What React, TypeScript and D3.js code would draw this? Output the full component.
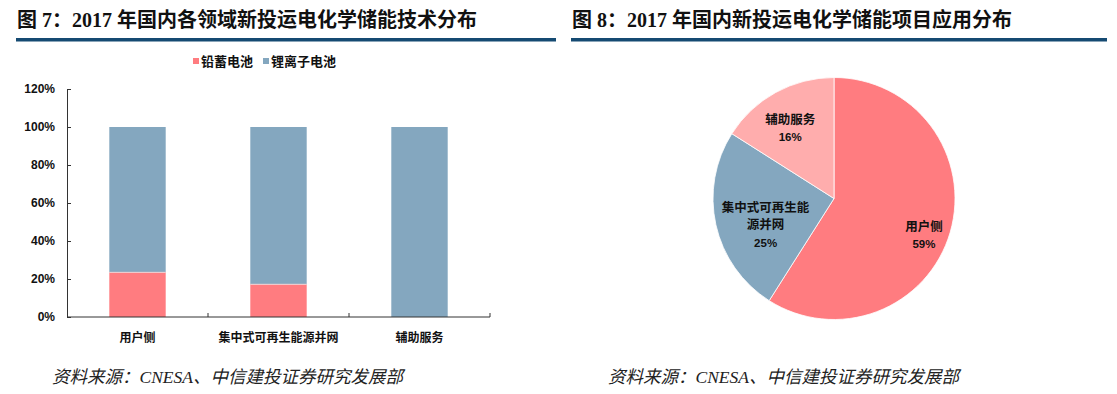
import React, { useEffect, useRef } from 'react';
import * as d3 from 'd3';

// bar chart (figure 7)
const barCategories = ['用户侧', '集中式可再生能源并网', '辅助服务'];
const leadAcid = [0.235, 0.172, 0];
const lithiumIon = [0.765, 0.828, 1];
const seriesNames = ['铅蓄电池', '锂离子电池'];
const yTicks = [0, 0.2, 0.4, 0.6, 0.8, 1.0, 1.2];

// pie chart (figure 8)
const pieNames = ['用户侧', '集中式可再生能源并网', '辅助服务'];
const pieLabelLines = [['用户侧'], ['集中式可再生能', '源并网'], ['辅助服务']];
const pieValues = [59, 25, 16];

const titles = [
  '图 7：2017 年国内各领域新投运电化学储能技术分布',
  '图 8：2017 年国内新投运电化学储能项目应用分布',
];
const source = '资料来源：CNESA、中信建投证券研究发展部';

const RED = '#ff7c80';
const BLUE = '#84a7bf';
const PINK = '#ffadad';
const LINE = '#154a72';
const FONT = '"Liberation Sans", Arial, "Noto Sans CJK SC", sans-serif';
const SERIF = '"Liberation Serif", "Times New Roman", "Noto Sans CJK SC", serif';

function App() {
  const svgRef = useRef<SVGSVGElement>(null);

  useEffect(() => {
    const svg = d3.select(svgRef.current);
    svg.selectAll('*').remove();

    // headers + source notes
    const heads = [
      { x: 17, x2: 557 },
      { x: 572, x2: 1108 },
    ];
    heads.forEach((h, i) => {
      svg.append('text')
        .attr('x', h.x).attr('y', 27)
        .attr('font-family', SERIF)
        .attr('font-weight', 'bold')
        .attr('font-size', 20)
        .attr('fill', '#111')
        .text(titles[i]);
      svg.append('rect')
        .attr('x', h.x - 1).attr('y', 38)
        .attr('width', h.x2 - h.x).attr('height', 3.5)
        .attr('fill', LINE);
      svg.append('text')
        .attr('x', i === 0 ? 52 : 608).attr('y', 383)
        .attr('font-family', SERIF)
        .attr('font-style', 'italic')
        .attr('font-size', 17.5)
        .attr('fill', '#222')
        .text(source);
    });

    // ---- stacked bar chart ----
    const x = d3.scaleBand().domain(barCategories).range([67, 490]).paddingInner(0.6).paddingOuter(0.3);
    const y = d3.scaleLinear().domain([0, 1.2]).range([317, 89]);
    const g = svg.append('g');

    const stackData = barCategories.map((c, i) => ({ cat: c, lead: leadAcid[i], li: lithiumIon[i] }));
    const stack = d3.stack<any>().keys(['lead', 'li'])(stackData);
    const colors = [RED, BLUE];
    stack.forEach((layer, k) => {
      g.selectAll(null)
        .data(layer)
        .enter()
        .append('rect')
        .attr('x', (d) => x(d.data.cat)!)
        .attr('width', x.bandwidth())
        .attr('y', (d) => y(d[1]))
        .attr('height', (d) => y(d[0]) - y(d[1]))
        .attr('fill', colors[k]);
    });
    // thin light divider between segments
    stackData.forEach((d) => {
      if (d.lead > 0) {
        g.append('line')
          .attr('x1', x(d.cat)!).attr('x2', x(d.cat)! + x.bandwidth())
          .attr('y1', y(d.lead)).attr('y2', y(d.lead))
          .attr('stroke', '#f4d0d2').attr('stroke-width', 1);
      }
    });

    const yAxis = g.append('g')
      .attr('transform', 'translate(67,0)')
      .call(d3.axisLeft(y).tickValues(yTicks).tickSize(-4).tickFormat((v) => `${Math.round(+v * 100)}%`));
    yAxis.select('.domain').attr('stroke', '#333');
    yAxis.selectAll('line').attr('stroke', '#333');
    yAxis.selectAll('text')
      .attr('x', -12)
      .attr('font-family', FONT)
      .attr('font-weight', 'bold')
      .attr('font-size', 12)
      .attr('fill', '#111');

    const xAxisY = y(0);
    g.append('line')
      .attr('x1', 67).attr('x2', 490)
      .attr('y1', xAxisY).attr('y2', xAxisY)
      .attr('stroke', '#333');
    const step = x.step();
    barCategories.forEach((c) => {
      const edge = x(c)! + x.bandwidth() / 2 + step / 2;
      g.append('line')
        .attr('x1', edge).attr('x2', edge)
        .attr('y1', xAxisY - 4).attr('y2', xAxisY)
        .attr('stroke', '#333');
      g.append('text')
        .attr('x', x(c)! + x.bandwidth() / 2)
        .attr('y', 342)
        .attr('text-anchor', 'middle')
        .attr('font-family', FONT)
        .attr('font-weight', 'bold')
        .attr('font-size', 12)
        .attr('fill', '#111')
        .text(c);
    });

    // legend
    const legendX = [193, 263];
    seriesNames.forEach((n, i) => {
      g.append('rect')
        .attr('x', legendX[i]).attr('y', 58)
        .attr('width', 6).attr('height', 6)
        .attr('fill', colors[i]);
      g.append('text')
        .attr('x', legendX[i] + 8).attr('y', 66)
        .attr('font-family', FONT)
        .attr('font-weight', 'bold')
        .attr('font-size', 13)
        .attr('fill', '#111')
        .text(n);
    });

    // ---- pie chart ----
    const cx = 834;
    const cy = 198.5;
    const r = 121;
    const pieColors = [RED, BLUE, PINK];
    const pie = d3.pie<number>().sort(null)(pieValues);
    const arc = d3.arc<d3.PieArcDatum<number>>().innerRadius(0).outerRadius(r);
    const pg = svg.append('g').attr('transform', `translate(${cx},${cy})`);
    pg.selectAll('path')
      .data(pie)
      .enter()
      .append('path')
      .attr('d', arc)
      .attr('fill', (d, i) => pieColors[i])
      .attr('stroke', '#fff')
      .attr('stroke-width', 0.8);

    const labelR = [0.8, 0.63, 0.7];
    const labelShift = [[-3, 10], [6, 10], [-3, 4]];
    pie.forEach((d, i) => {
      const [lx0, ly0] = d3.arc<any>().innerRadius(r * labelR[i]).outerRadius(r * labelR[i]).centroid(d);
      const lx = lx0 + labelShift[i][0];
      const ly = ly0 + labelShift[i][1];
      const lines = [...pieLabelLines[i], `${pieValues[i]}%`];
      const lh = 17.5;
      const top = ly - ((lines.length - 1) * lh) / 2;
      const t = pg.append('text')
        .attr('text-anchor', 'middle')
        .attr('font-family', FONT)
        .attr('font-weight', 'bold')
        .attr('font-size', 12.5)
        .attr('fill', '#111')
        .attr('aria-label', pieNames[i]);
      lines.forEach((ln, j) => {
        t.append('tspan')
          .attr('x', lx)
          .attr('y', top + j * lh + 4)
          .attr('font-size', j === lines.length - 1 ? 11.5 : 12.5)
          .text(ln);
      });
    });
  }, []);

  return (
    <svg
      ref={svgRef}
      width="1117"
      height="394"
      style={{ position: 'absolute', left: 0, top: 0, background: '#fff' }}
    />
  );
}

export default App;
